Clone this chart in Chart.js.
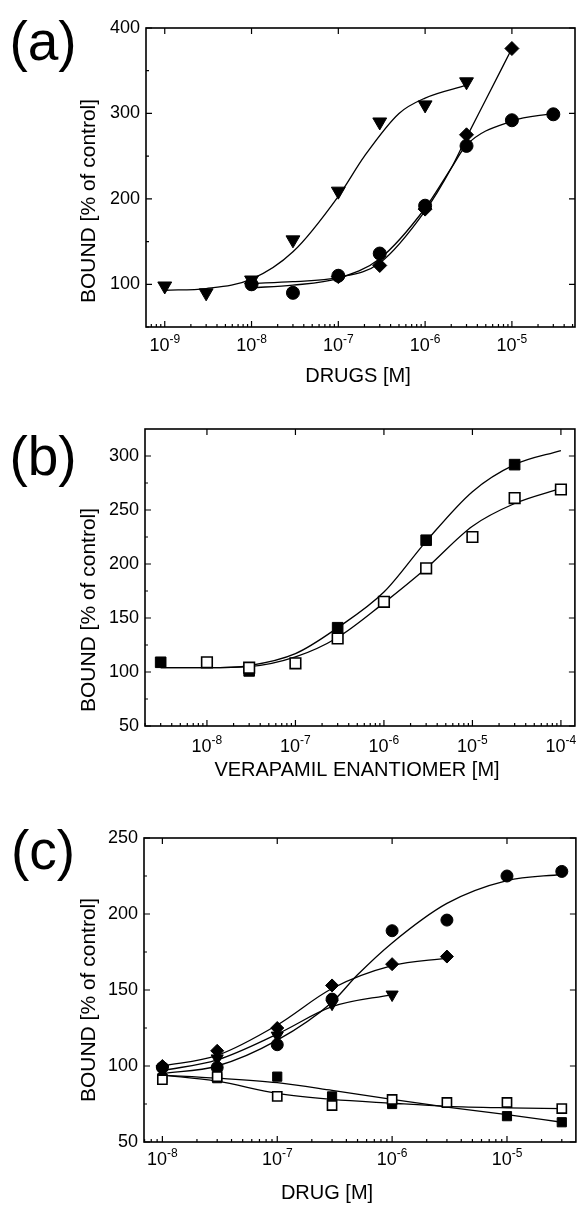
<!DOCTYPE html>
<html lang="en">
<head>
<meta charset="UTF-8" />
<title>BOUND vs drug concentration</title>
<script src="https://cdn.jsdelivr.net/npm/chart.js"></script>
<style>
  body { margin: 0; background: #fff; }
  canvas { position: absolute; left: 0; }
</style>
</head>
<body>
<canvas id="chartA" width="584" height="400" style="top:0px"></canvas>
<canvas id="chartB" width="584" height="400" style="top:400px"></canvas>
<canvas id="chartC" width="584" height="407" style="top:800px"></canvas>

<script>
// ---- panel (a): DRUGS [M]
const aTriX = [1e-9, 3e-9, 1e-8, 3e-8, 1e-7, 3e-7, 1e-6, 3e-6];
const aTriY = [98, 90, 105, 152, 209, 290, 310, 337];
const aTriFitX = [1e-9, 3e-9, 1e-8, 3e-8, 1e-7, 2e-7, 5e-7, 1e-6, 3e-6];
const aTriFitY = [93, 95, 106, 138, 203, 250, 300, 318, 333];
const aCircX = [1e-8, 3e-8, 1e-7, 3e-7, 1e-6, 3e-6, 1e-5, 3e-5];
const aCircY = [100, 90, 110, 136, 192, 262, 292, 299];
const aCircFitX = [1e-8, 3e-8, 1e-7, 3e-7, 1e-6, 2e-6, 3e-6, 1e-5, 3e-5];
const aCircFitY = [96, 99, 107, 130, 189, 236, 263, 291, 300];
const aDiaX = [1e-8, 1e-7, 3e-7, 1e-6, 3e-6, 1e-5];
const aDiaY = [101, 109, 122, 188, 275, 376];
const aDiaFitX = [1e-8, 3e-8, 1e-7, 3e-7, 1e-6, 2e-6, 3e-6, 5e-6, 1e-5];
const aDiaFitY = [101, 103, 108, 125, 186, 236, 272, 316, 376];
const aYLabels = [100, 200, 300, 400];
const aYMinor = [50, 150, 250, 350];
const aXExp = [-9, -8, -7, -6, -5];

// ---- panel (b): VERAPAMIL ENANTIOMER [M]
const bFillX = [3e-9, 3e-8, 3e-7, 3e-6, 3e-5];
const bFillY = [109, 101, 141, 222, 292];
const bFillFitX = [3e-9, 1e-8, 3e-8, 1e-7, 3e-7, 1e-6, 3e-6, 1e-5, 3e-5, 1e-4];
const bFillFitY = [104, 104, 106, 117, 141, 174, 221, 267, 292, 305];
const bOpenX = [1e-8, 3e-8, 1e-7, 3e-7, 1e-6, 3e-6, 1e-5, 3e-5, 1e-4];
const bOpenY = [109, 104, 108, 131, 165, 196, 225, 261, 269];
const bOpenFitX = [3e-9, 1e-8, 3e-8, 1e-7, 3e-7, 1e-6, 3e-6, 1e-5, 3e-5, 1e-4];
const bOpenFitY = [104, 104, 105, 114, 132, 164, 196, 235, 256, 270];
const bYLabels = [50, 100, 150, 200, 250, 300];
const bYMinor = [75, 125, 175, 225, 275];
const bXExp = [-8, -7, -6, -5, -4];

// ---- panel (c): DRUG [M]
const cCircX = [1e-8, 3e-8, 1e-7, 3e-7, 1e-6, 3e-6, 1e-5, 3e-5];
const cCircY = [99, 99, 114, 144, 189, 196, 225, 228];
const cCircFitX = [1e-8, 3e-8, 1e-7, 3e-7, 5e-7, 1e-6, 3e-6, 1e-5, 3e-5];
const cCircFitY = [95, 100, 117, 142, 160, 181, 207, 222, 226];
const cDiaX = [1e-8, 3e-8, 1e-7, 3e-7, 1e-6, 3e-6];
const cDiaY = [100, 110, 125, 153, 167, 172];
const cDiaFitY = [100, 107, 127, 151, 166, 171];
const cTriX = [1e-8, 3e-8, 1e-7, 3e-7, 1e-6];
const cTriY = [97, 105, 120, 141, 147];
const cTriFitY = [97, 104, 121, 139, 147];
const cFillX = [1e-8, 3e-8, 1e-7, 3e-7, 1e-6, 1e-5, 3e-5];
const cFillY = [92, 92, 93, 80, 75, 67, 63];
const cOpenX = [1e-8, 3e-8, 1e-7, 3e-7, 1e-6, 3e-6, 1e-5, 3e-5];
const cOpenY = [91, 93, 80, 74, 78, 76, 76, 72];
const cLineX = [1e-8, 3e-8, 1e-7, 3e-7, 1e-6, 3e-6, 1e-5, 3e-5];
const cFillFitY = [94, 92, 89, 84, 78, 73, 68, 63];
const cOpenFitY = [94, 90, 82, 78, 75.5, 73.5, 72.5, 72];
const cYLabels = [50, 100, 150, 200, 250];
const cYMinor = [75, 125, 175, 225];
const cXExp = [-8, -7, -6, -5];

const FONT = '"Liberation Sans", Arial, Helvetica, sans-serif';

function pts(xs, ys) {
  return xs.map((x, i) => ({ x: x, y: ys[i] }));
}

function markers(xs, ys, style, r, filled, rot) {
  return {
    data: pts(xs, ys),
    showLine: false,
    pointStyle: style,
    pointRadius: r,
    pointHoverRadius: r,
    pointRotation: rot || 0,
    pointBackgroundColor: filled ? '#000' : '#fff',
    pointBorderColor: '#000',
    pointBorderWidth: filled ? 1 : 1.6
  };
}

function fit(xs, ys) {
  return {
    data: pts(xs, ys),
    showLine: true,
    borderColor: '#000',
    borderWidth: 1.3,
    pointRadius: 0,
    pointHoverRadius: 0,
    cubicInterpolationMode: 'monotone',
    fill: false
  };
}

// axes frame, inward ticks and all the labels
const framePlugin = {
  id: 'frame',
  afterDraw(chart, args, o) {
    const ctx = chart.ctx;
    const ca = chart.chartArea;
    const x = chart.scales.x, y = chart.scales.y;
    ctx.save();
    ctx.strokeStyle = '#000';
    ctx.fillStyle = '#000';
    ctx.lineWidth = 1.6;
    ctx.strokeRect(ca.left, ca.top, ca.right - ca.left, ca.bottom - ca.top);

    ctx.lineWidth = 1.2;
    ctx.beginPath();
    o.yLabels.forEach(v => {
      const py = y.getPixelForValue(v);
      ctx.moveTo(ca.left, py); ctx.lineTo(ca.left + 6, py);
      ctx.moveTo(ca.right, py); ctx.lineTo(ca.right - 6, py);
    });
    o.yMinor.forEach(v => {
      const py = y.getPixelForValue(v);
      ctx.moveTo(ca.left, py); ctx.lineTo(ca.left + 3, py);
    });
    const lo = Math.floor(Math.log10(x.min)), hi = Math.ceil(Math.log10(x.max));
    for (let d = lo; d <= hi; d++) {
      for (let k = 1; k <= 9; k++) {
        const v = k * Math.pow(10, d);
        if (v < x.min || v > x.max) continue;
        const px = x.getPixelForValue(v);
        if (k === 1) {
          ctx.moveTo(px, ca.bottom); ctx.lineTo(px, ca.bottom - 6);
          ctx.moveTo(px, ca.top); ctx.lineTo(px, ca.top + 6);
        } else {
          ctx.moveTo(px, ca.bottom); ctx.lineTo(px, ca.bottom - 3);
        }
      }
    }
    ctx.stroke();

    // y tick labels
    ctx.font = '18px ' + FONT;
    ctx.textAlign = 'right';
    ctx.textBaseline = 'middle';
    o.yLabels.forEach(v => ctx.fillText(String(v), ca.left - 6, y.getPixelForValue(v)));

    // x tick labels as 10 with a raised exponent
    ctx.textAlign = 'left';
    o.xExp.forEach(e => {
      const px = x.getPixelForValue(Math.pow(10, e));
      ctx.font = '18px ' + FONT;
      const wb = ctx.measureText('10').width;
      ctx.font = '12px ' + FONT;
      const we = ctx.measureText(String(e)).width;
      const left = px - (wb + we) / 2;
      ctx.font = '18px ' + FONT;
      ctx.fillText('10', left, o.xLabelY);
      ctx.font = '12px ' + FONT;
      ctx.fillText(String(e), left + wb, o.xLabelY - 6);
    });

    // axis titles
    ctx.font = '20px ' + FONT;
    ctx.textAlign = 'center';
    ctx.fillText(o.xTitle, o.xTitleX, o.xTitleY);
    ctx.save();
    ctx.translate(o.yTitleX, o.yTitleY);
    ctx.rotate(-Math.PI / 2);
    ctx.font = '21px ' + FONT;
    ctx.fillText('BOUND [% of control]', 0, 0);
    ctx.restore();

    // panel letter
    ctx.font = '55px ' + FONT;
    ctx.fillText(o.letter, o.letterX, o.letterY);
    ctx.restore();
  }
};

function makeChart(id, datasets, xr, yr, pad, frame) {
  return new Chart(document.getElementById(id), {
    type: 'scatter',
    data: { datasets: datasets },
    plugins: [framePlugin],
    options: {
      responsive: false,
      animation: false,
      layout: { padding: pad },
      scales: {
        x: { type: 'logarithmic', min: xr[0], max: xr[1], display: false },
        y: { type: 'linear', min: yr[0], max: yr[1], display: false }
      },
      plugins: {
        legend: { display: false },
        tooltip: { enabled: false },
        frame: frame
      }
    }
  });
}

makeChart('chartA', [
  markers(aTriX, aTriY, 'triangle', 8, true, 180),
  markers(aDiaX, aDiaY, 'rectRot', 7, true),
  markers(aCircX, aCircY, 'circle', 6.5, true),
  fit(aTriFitX, aTriFitY),
  fit(aCircFitX, aCircFitY),
  fit(aDiaFitX, aDiaFitY)
], [Math.pow(10, -9.216), Math.pow(10, -4.273)], [50, 400],
  { left: 146, top: 28, right: 3, bottom: 73 },
  { yLabels: aYLabels, yMinor: aYMinor, xExp: aXExp, xLabelY: 346,
    xTitle: 'DRUGS [M]', xTitleX: 358, xTitleY: 376,
    yTitleX: 89, yTitleY: 201, letter: '(a)', letterX: 43, letterY: 45 });

makeChart('chartB', [
  markers(bOpenX, bOpenY, 'rect', 7.5, false),
  markers(bFillX, bFillY, 'rect', 7.5, true),
  fit(bFillFitX, bFillFitY),
  fit(bOpenFitX, bOpenFitY)
], [Math.pow(10, -8.70), Math.pow(10, -3.842)], [50, 325],
  { left: 145, top: 29, right: 9, bottom: 74 },
  { yLabels: bYLabels, yMinor: bYMinor, xExp: bXExp, xLabelY: 347,
    xTitle: 'VERAPAMIL ENANTIOMER [M]', xTitleX: 357, xTitleY: 370,
    yTitleX: 89, yTitleY: 210, letter: '(b)', letterX: 43, letterY: 60 });

makeChart('chartC', [
  markers(cOpenX, cOpenY, 'rect', 6.5, false),
  markers(cFillX, cFillY, 'rect', 6.5, true),
  markers(cTriX, cTriY, 'triangle', 7, true, 180),
  markers(cDiaX, cDiaY, 'rectRot', 6.5, true),
  markers(cCircX, cCircY, 'circle', 6, true),
  fit(cCircFitX, cCircFitY),
  fit(cDiaX, cDiaFitY),
  fit(cTriX, cTriFitY),
  fit(cLineX, cFillFitY),
  fit(cLineX, cOpenFitY)
], [Math.pow(10, -8.16), Math.pow(10, -4.40)], [50, 250],
  { left: 144, top: 38, right: 2, bottom: 65 },
  { yLabels: cYLabels, yMinor: cYMinor, xExp: cXExp, xLabelY: 360,
    xTitle: 'DRUG [M]', xTitleX: 327, xTitleY: 393,
    yTitleX: 89, yTitleY: 200, letter: '(c)', letterX: 43, letterY: 54 });
</script>
</body>
</html>
